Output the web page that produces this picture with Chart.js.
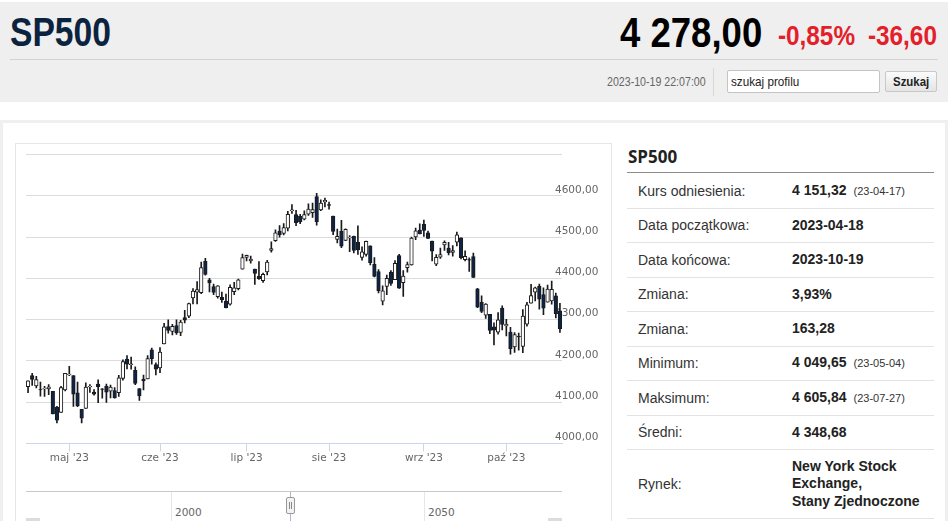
<!DOCTYPE html>
<html lang="pl">
<head>
<meta charset="utf-8">
<title>SP500</title>
<script src="https://cdn.jsdelivr.net/npm/chart.js@4.4.0/dist/chart.umd.min.js"></script>
<style>
  html, body { margin: 0; padding: 0; background: #fff; }
  body { width: 948px; height: 521px; overflow: hidden; position: relative; font-family: "Liberation Sans", Arial, sans-serif; }
  .nw { position: absolute; display: inline-block; white-space: nowrap; transform-origin: left center; }
  #head { position: absolute; left: 0; top: 2px; width: 948px; height: 100px; background: #efefef; }
  #title { left: 10px; top: 10px; font-size: 41px; line-height: 41px; font-weight: bold; color: #0c2340; transform: scaleX(0.82); }
  #price { left: 620px; top: 10px; font-size: 42px; line-height: 42px; font-weight: bold; color: #000; transform: scaleX(0.87); }
  .chg { top: 21px; font-size: 27px; line-height: 27px; font-weight: bold; color: #e3202a; transform: scaleX(0.9); }
  #divider { position: absolute; left: 10px; top: 57px; width: 928px; height: 1px; background: #d2d2d2; }
  #stamp { left: 607px; top: 72px; font-size: 12.5px; line-height: 16px; color: #666; transform: scaleX(0.85); }
  #vsep { position: absolute; left: 713px; top: 66px; width: 1px; height: 28px; background: #d8d8d8; }
  #search { position: absolute; left: 727px; top: 68px; width: 153px; height: 23px; box-sizing: border-box; background: #fff; border: 1px solid #c4c4c4; border-radius: 2px; }
  #search span { left: 3px; top: 0; font-size: 13px; line-height: 21px; color: #222; transform: scaleX(0.9); }
  #btn { position: absolute; left: 885px; top: 69px; width: 52px; height: 21px; box-sizing: border-box; background: linear-gradient(#fbfbfb, #e4e4e4); border: 1px solid #c8c8c8; border-radius: 2px; }
  #btn span { left: 7px; top: 0; font-size: 13px; line-height: 19px; font-weight: bold; color: #222; transform: scaleX(0.88); }
  #box { position: absolute; left: 0; top: 120px; width: 948px; height: 420px; box-sizing: border-box; border: 3px solid #efefef; }
  #chartBox { position: absolute; left: 15px; top: 143px; width: 597px; height: 400px; box-sizing: border-box; border: 1px solid #e6e6e6; }
  #chartWrap { position: absolute; left: 0; top: 0; width: 596px; height: 330px; }
  .nav { position: absolute; }
  #navTop { left: 26px; top: 491px; width: 536px; height: 1px; background: #c8c8c8; }
  .navGrid { top: 492px; width: 1px; height: 30px; background: #e6e6e6; }
  .navLbl { top: 505px; font-family: "DejaVu Sans", sans-serif; font-size: 10.5px; line-height: 14px; color: #666; }
  #navLine { left: 290px; top: 492px; width: 1px; height: 30px; background: #a9b8d2; }
  #navHandle { left: 286px; top: 497px; width: 9px; height: 17px; box-sizing: border-box; background: #f2f2f2; border: 1px solid #999; border-radius: 2px; }
  #navHandle:before, #navHandle:after { content: ""; position: absolute; top: 4px; width: 1px; height: 7px; background: #888; }
  #navHandle:before { left: 2px; }
  #navHandle:after { left: 4px; }
  .navEnd { top: 518px; width: 14px; height: 4px; background: #dcdcdc; }
  #ptitle { position: absolute; left: 628px; top: 147px; font-family: "Open Sans", sans-serif; font-size: 17px; line-height: 20px; font-weight: bold; color: #222; }
  #pline { position: absolute; left: 627px; top: 172px; width: 307px; height: 1px; background: #8c8c8c; }
  #panel { position: absolute; left: 627px; top: 174px; width: 307px; }
  .row { display: flex; align-items: center; height: 34.5px; box-sizing: border-box; border-bottom: 1px solid #e3e3e3; font-size: 14px; }
  .row.tall { height: 69px; }
  .lbl { width: 154px; padding-left: 11px; color: #333; flex: none; }
  .val { font-weight: bold; color: #222; line-height: 17.5px; }
  .val small { font-weight: normal; font-size: 11px; margin-left: 7px; color: #333; }
</style>
</head>
<body>
<div id="head">
  <div id="title" class="nw">SP500</div>
  <div id="price" class="nw">4 278,00</div>
  <div class="nw chg" style="left:778px">-0,85%</div>
  <div class="nw chg" style="left:868px">-36,60</div>
  <div id="divider"></div>
  <div id="stamp" class="nw">2023-10-19 22:07:00</div>
  <div id="vsep"></div>
  <div id="search"><span class="nw">szukaj profilu</span></div>
  <div id="btn"><span class="nw">Szukaj</span></div>
</div>

<div id="box"></div>
<div id="chartBox"><div id="chartWrap"><canvas id="candles"></canvas></div></div>

<div class="nav" id="navTop"></div>
<div class="nav navGrid" style="left:171px"></div>
<div class="nav navGrid" style="left:424px"></div>
<div class="nav navLbl" style="left:175px">2000</div>
<div class="nav navLbl" style="left:428px">2050</div>
<div class="nav" id="navLine"></div>
<div class="nav" id="navHandle"></div>
<div class="nav navEnd" style="left:26px"></div>
<div class="nav navEnd" style="left:548px"></div>

<div id="ptitle">SP500</div>
<div id="pline"></div>
<div id="panel">
  <div class="row"><span class="lbl">Kurs odniesienia:</span><span class="val">4 151,32<small>(23-04-17)</small></span></div>
  <div class="row"><span class="lbl">Data początkowa:</span><span class="val">2023-04-18</span></div>
  <div class="row"><span class="lbl">Data końcowa:</span><span class="val">2023-10-19</span></div>
  <div class="row"><span class="lbl">Zmiana:</span><span class="val">3,93%</span></div>
  <div class="row"><span class="lbl">Zmiana:</span><span class="val">163,28</span></div>
  <div class="row"><span class="lbl">Minimum:</span><span class="val">4 049,65<small>(23-05-04)</small></span></div>
  <div class="row"><span class="lbl">Maksimum:</span><span class="val">4 605,84<small>(23-07-27)</small></span></div>
  <div class="row"><span class="lbl">Średni:</span><span class="val">4 348,68</span></div>
  <div class="row tall"><span class="lbl">Rynek:</span><span class="val">New York Stock<br>Exchange,<br>Stany Zjednoczone</span></div>
</div>

<script>
// trading days shown on the chart
const dates = [
  '2023-04-17','2023-04-18','2023-04-19','2023-04-20','2023-04-21','2023-04-24','2023-04-25','2023-04-26','2023-04-27','2023-04-28',
  '2023-05-01','2023-05-02','2023-05-03','2023-05-04','2023-05-05','2023-05-08','2023-05-09','2023-05-10','2023-05-11','2023-05-12',
  '2023-05-15','2023-05-16','2023-05-17','2023-05-18','2023-05-19','2023-05-22','2023-05-23','2023-05-24','2023-05-25','2023-05-26',
  '2023-05-30','2023-05-31','2023-06-01','2023-06-02','2023-06-05','2023-06-06','2023-06-07','2023-06-08','2023-06-09','2023-06-12',
  '2023-06-13','2023-06-14','2023-06-15','2023-06-16','2023-06-20','2023-06-21','2023-06-22','2023-06-23','2023-06-26','2023-06-27',
  '2023-06-28','2023-06-29','2023-06-30','2023-07-03','2023-07-05','2023-07-06','2023-07-07','2023-07-10','2023-07-11','2023-07-12',
  '2023-07-13','2023-07-14','2023-07-17','2023-07-18','2023-07-19','2023-07-20','2023-07-21','2023-07-24','2023-07-25','2023-07-26',
  '2023-07-27','2023-07-28','2023-07-31','2023-08-01','2023-08-02','2023-08-03','2023-08-04','2023-08-07','2023-08-08','2023-08-09',
  '2023-08-10','2023-08-11','2023-08-14','2023-08-15','2023-08-16','2023-08-17','2023-08-18','2023-08-21','2023-08-22','2023-08-23',
  '2023-08-24','2023-08-25','2023-08-28','2023-08-29','2023-08-30','2023-08-31','2023-09-01','2023-09-05','2023-09-06','2023-09-07',
  '2023-09-08','2023-09-11','2023-09-12','2023-09-13','2023-09-14','2023-09-15','2023-09-18','2023-09-19','2023-09-20','2023-09-21',
  '2023-09-22','2023-09-25','2023-09-26','2023-09-27','2023-09-28','2023-09-29','2023-10-02','2023-10-03','2023-10-04','2023-10-05',
  '2023-10-06','2023-10-09','2023-10-10','2023-10-11','2023-10-12','2023-10-13','2023-10-16','2023-10-17','2023-10-18','2023-10-19'
];

const openVals = [
  4137.17,4164.26,4139.33,4130.48,4132.14,4132.07,4126.43,4087.78,4075.29,4129.63,
  4166.79,4164.10,4122.25,4082.61,4084.73,4136.98,4124.25,4143.74,4132.24,4138.54,
  4126.65,4127.95,4122.85,4157.68,4204.15,4190.78,4176.80,4132.96,4155.71,4156.16,
  4226.71,4190.74,4183.03,4241.01,4282.99,4271.61,4285.47,4268.69,4304.88,4308.32,
  4352.61,4366.29,4365.33,4440.95,4396.11,4380.01,4355.40,4354.17,4344.84,4337.36,
  4367.48,4374.94,4422.44,4450.48,4442.04,4422.62,4404.54,4394.23,4415.55,4467.69,
  4491.50,4514.61,4508.86,4521.78,4563.87,4554.38,4550.16,4543.39,4555.19,4558.96,
  4598.26,4565.75,4584.82,4578.83,4550.93,4494.27,4513.96,4491.58,4498.03,4501.57,
  4487.16,4450.69,4458.13,4478.87,4433.79,4416.32,4344.88,4380.28,4415.33,4396.44,
  4455.16,4389.38,4426.03,4432.75,4500.34,4517.01,4530.60,4510.06,4490.35,4434.55,
  4451.30,4480.98,4473.27,4462.65,4487.78,4497.98,4445.13,4445.41,4452.81,4374.36,
  4341.74,4310.62,4312.88,4282.63,4269.65,4328.18,4284.52,4269.75,4233.83,4259.31,
  4234.79,4289.02,4339.75,4366.59,4380.94,4360.49,4342.37,4345.23,4357.35,4321.36
];

const highVals = [
  4151.72,4169.48,4162.57,4148.57,4138.02,4142.41,4126.43,4089.67,4138.24,4170.06,
  4186.92,4164.10,4148.30,4082.61,4147.02,4142.30,4130.35,4154.28,4132.80,4143.74,
  4141.25,4135.54,4164.67,4202.20,4212.91,4209.22,4185.68,4132.96,4165.74,4212.87,
  4231.10,4195.44,4232.43,4290.67,4299.28,4288.33,4299.19,4298.01,4322.62,4340.13,
  4375.37,4391.82,4439.20,4448.47,4400.15,4386.22,4382.25,4366.55,4362.06,4384.42,
  4390.35,4398.39,4458.48,4456.46,4454.06,4422.62,4440.39,4412.60,4443.64,4488.34,
  4517.38,4527.76,4532.85,4562.30,4578.43,4564.74,4555.00,4563.41,4580.62,4582.47,
  4605.84,4590.16,4594.22,4584.62,4550.93,4519.49,4540.34,4519.84,4503.31,4502.44,
  4527.37,4476.23,4490.33,4478.87,4449.95,4421.17,4381.82,4407.55,4418.59,4443.18,
  4458.30,4418.46,4439.56,4500.14,4521.65,4532.26,4541.25,4514.29,4490.35,4457.81,
  4473.53,4490.77,4487.11,4479.39,4511.99,4497.98,4466.36,4449.85,4461.03,4375.70,
  4357.40,4338.51,4313.01,4292.07,4317.27,4333.15,4300.58,4281.15,4268.50,4267.13,
  4324.10,4341.73,4385.46,4378.64,4385.85,4377.10,4383.33,4393.57,4364.20,4339.54
];

const lowVals = [
  4123.18,4140.36,4134.49,4114.57,4113.86,4117.77,4071.38,4049.90,4075.29,4127.18,
  4164.12,4089.72,4088.86,4049.65,4084.73,4123.81,4116.65,4098.92,4109.29,4099.12,
  4110.27,4109.86,4113.62,4153.14,4180.20,4179.68,4142.54,4103.98,4129.73,4156.16,
  4192.18,4166.15,4171.64,4241.01,4266.82,4263.09,4263.96,4261.07,4291.70,4304.37,
  4337.66,4337.85,4362.60,4407.44,4367.19,4360.14,4351.82,4341.34,4328.08,4335.00,
  4360.22,4371.97,4422.44,4442.29,4436.61,4385.05,4397.40,4389.92,4408.46,4463.23,
  4489.36,4499.56,4504.90,4514.59,4557.48,4527.56,4532.61,4541.29,4552.42,4547.58,
  4528.56,4564.01,4573.14,4567.53,4505.75,4485.54,4474.55,4491.15,4464.39,4461.33,
  4457.92,4443.98,4453.44,4432.19,4403.55,4364.83,4335.31,4360.30,4382.77,4396.44,
  4375.55,4356.29,4414.98,4431.68,4493.59,4507.39,4501.35,4496.01,4442.38,4430.46,
  4448.38,4467.89,4456.83,4453.52,4478.69,4447.21,4442.11,4416.61,4401.38,4329.17,
  4316.49,4302.70,4265.98,4238.63,4264.38,4274.86,4260.21,4216.45,4220.48,4225.91,
  4219.55,4283.79,4339.64,4345.34,4325.43,4311.97,4342.37,4337.54,4303.84,4268.64
];

const closeVals = [
  4151.32,4154.87,4154.52,4129.79,4133.52,4137.04,4071.63,4055.99,4135.35,4169.48,
  4167.87,4119.58,4090.75,4061.22,4136.25,4138.12,4119.17,4137.64,4130.62,4124.08,
  4136.28,4109.90,4158.77,4198.05,4191.98,4192.63,4145.58,4115.24,4151.28,4205.45,
  4205.52,4179.83,4221.02,4282.37,4273.79,4283.85,4267.52,4293.93,4298.86,4338.93,
  4369.01,4372.59,4425.84,4409.59,4388.71,4365.69,4381.89,4348.33,4328.82,4378.41,
  4376.86,4396.44,4450.38,4455.59,4446.82,4411.59,4398.95,4409.53,4439.26,4472.16,
  4510.04,4505.42,4522.79,4554.98,4565.72,4534.87,4536.34,4554.64,4567.46,4566.75,
  4537.41,4582.23,4588.96,4576.73,4513.39,4501.89,4478.03,4518.44,4499.38,4467.71,
  4468.83,4464.05,4489.72,4437.86,4404.33,4370.36,4369.71,4399.77,4387.55,4436.01,
  4376.31,4405.71,4433.31,4497.63,4514.87,4507.66,4515.77,4496.83,4465.48,4451.14,
  4457.49,4487.46,4461.90,4467.44,4505.10,4450.32,4453.53,4443.95,4402.20,4330.00,
  4320.06,4337.44,4273.53,4274.51,4299.70,4288.05,4288.39,4229.45,4263.75,4258.19,
  4308.50,4335.66,4358.24,4376.95,4349.61,4327.78,4373.63,4373.20,4314.60,4278.00
];

const monthNames = ['sty','lut','mar','kwi','maj','cze','lip','sie','wrz','paź','lis','gru'];

// label only the first trading day of each new month
function monthLabel(i) {
  if (i === 0) return '';
  const m = dates[i].slice(5, 7);
  if (m === dates[i - 1].slice(5, 7)) return '';
  return monthNames[+m - 1] + " '" + dates[i].slice(2, 4);
}

const upFill = '#ffffff';
const downFill = '#0d2447';

Chart.defaults.font.family = 'DejaVu Sans';

// price labels sit just above each gridline and reach into the plot, under the candles
const priceLabels = {
  id: 'priceLabels',
  beforeDatasetsDraw(chart) {
    const y = chart.scales.y;
    const ctx = chart.ctx;
    ctx.save();
    ctx.fillStyle = '#666';
    ctx.font = '10.5px "DejaVu Sans"';
    ctx.textAlign = 'left';
    ctx.textBaseline = 'middle';
    y.ticks.forEach(t => {
      if (t.value >= y.max) return;
      ctx.fillText(t.value.toFixed(2).replace('.', ','), chart.chartArea.right - 7, y.getPixelForValue(t.value) - 6);
    });
    ctx.restore();
  }
};

new Chart(document.getElementById('candles'), {
  type: 'bar',
  data: {
    labels: dates,
    datasets: [
      {
        // candle bodies
        data: openVals.map((o, i) => [o, closeVals[i]]),
        backgroundColor: openVals.map((o, i) => closeVals[i] >= o ? upFill : downFill),
        borderColor: '#1a1a1a',
        borderWidth: 1,
        borderSkipped: false,
        barThickness: 3.6,
        grouped: false,
        order: 0
      },
      {
        // wicks
        data: lowVals.map((l, i) => [l, highVals[i]]),
        backgroundColor: '#1a1a1a',
        barThickness: 1,
        grouped: false,
        order: 1
      }
    ]
  },
  options: {
    responsive: true,
    maintainAspectRatio: false,
    animation: false,
    layout: { padding: { left: 10, top: 10.5, right: 50, bottom: 8 } },
    plugins: { legend: { display: false }, tooltip: { enabled: false } },
    scales: {
      x: {
        offset: true,
        grid: {
          drawOnChartArea: false,
          drawTicks: true,
          tickLength: 8,
          offset: false,
          color: ctx => monthLabel(ctx.index) ? '#ccd6eb' : 'rgba(0,0,0,0)'
        },
        border: { color: '#ccd6eb' },
        ticks: {
          autoSkip: false,
          maxRotation: 0,
          minRotation: 0,
          padding: 1,
          color: '#666',
          font: { size: 10.5 },
          callback: (v, i) => monthLabel(i)
        }
      },
      y: {
        position: 'right',
        min: 4000,
        max: 4700,
        grid: { color: '#dcdcdc', drawTicks: false },
        border: { display: false },
        ticks: { stepSize: 100, display: false }
      }
    }
  },
  plugins: [priceLabels]
});
</script>
</body>
</html>
